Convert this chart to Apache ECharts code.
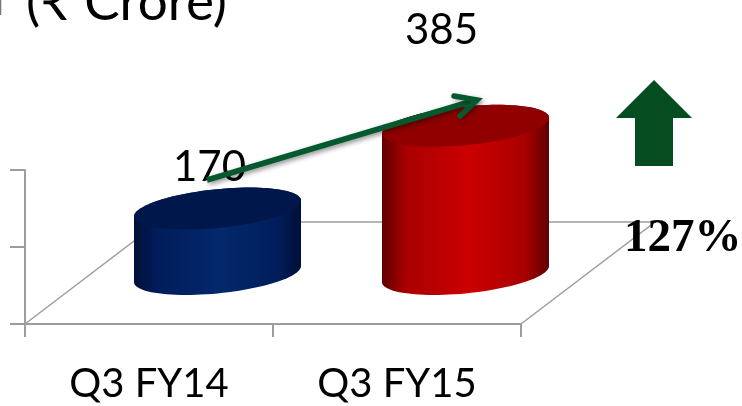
<!DOCTYPE html>
<html>
<head>
<meta charset="utf-8">
<style>html,body{margin:0;padding:0;background:#fff}#c{width:742px;height:406px}</style>
<script src="https://cdn.jsdelivr.net/npm/echarts@6/dist/echarts.min.js"></script>
</head>
<body>
<div id="c"></div>
<script>
const categories = ['Q3 FY14', 'Q3 FY15'];
const values = [170, 385];
const axisTicks = [0, 200, 400];
const growthLabel = '127%';
const unitTitle = '(₹ Crore)';

// Offset of the bars from the front of the floor, half of the floor depth.
const DEPTH = [134, -102];
const MID = [DEPTH[0] / 2 + 1.5, DEPTH[1] / 2 + 1];
const RX = 83.5, TILT = 8, RY = 19.4;
const NUDGE = [[-8, -41], [-24, -95]];
const LINE = '#9d9d9d';

const SKINS = [
  { edge: '#000f38', mid: '#03286c', base: '#001d5a', top: '#00174c' },
  { edge: '#5e0000', mid: '#cc0000', base: '#a80000', top: '#900000' }
];

// Point on the sheared ellipse of a cylinder cap.
function capPoint(cx, cy, t) {
  return [cx + RX * Math.cos(t), cy - TILT * Math.cos(t) + RY * Math.sin(t)];
}
function capPoints(cx, cy, from, to, n) {
  const pts = [];
  for (let i = 0; i <= n; i++) pts.push(capPoint(cx, cy, from + (to - from) * i / n));
  return pts;
}

function renderFloor(params) {
  const cs = params.coordSys;
  const x0 = cs.x, x1 = cs.x + cs.width, y0 = cs.y + cs.height;
  return {
    type: 'polyline',
    shape: { points: [[x0, y0], [x0 + DEPTH[0], y0 + DEPTH[1]], [x1 + DEPTH[0], y0 + DEPTH[1]], [x1, y0]] },
    style: { stroke: LINE, lineWidth: 1.5, fill: null }
  };
}

function renderCylinder(params, api) {
  const i = api.value(0);
  const skin = SKINS[i];
  const base = api.coord([i, 0]);
  const top = api.coord([i, api.value(1)]);
  const cx = base[0] + MID[0];
  const by = base[1] + MID[1];
  const ty = top[1] + MID[1];
  const body = capPoints(cx, by, 0, Math.PI, 48).concat(capPoints(cx, ty, Math.PI, 2 * Math.PI, 48));
  const side = {
    type: 'linear', x: 0, y: 0, x2: 1, y2: 0,
    colorStops: [
      { offset: 0, color: skin.edge },
      { offset: 0.14, color: skin.base },
      { offset: 0.52, color: skin.mid },
      { offset: 0.86, color: skin.base },
      { offset: 1, color: skin.edge }
    ]
  };
  return {
    type: 'group',
    children: [
      { type: 'polygon', shape: { points: body }, style: { fill: side } },
      { type: 'polygon', shape: { points: capPoints(cx, ty, 0, 2 * Math.PI, 96) }, style: { fill: skin.top } },
      {
        type: 'text', z2: 5,
        style: {
          text: String(api.value(1)), x: cx + NUDGE[i][0], y: ty + NUDGE[i][1],
          align: 'center', verticalAlign: 'middle', fill: '#000',
          font: '42px Lato, sans-serif'
        }
      }
    ]
  };
}

const chart = echarts.init(document.getElementById('c'));
chart.setOption({
  animation: false,
  backgroundColor: '#fff',
  grid: { left: 25, top: 170, width: 496, height: 154, containLabel: false },
  xAxis: {
    type: 'category', data: categories, boundaryGap: true,
    axisLine: { lineStyle: { color: LINE, width: 2 } },
    axisTick: { show: true, alignWithLabel: false, length: 13, lineStyle: { color: LINE, width: 2 } },
    axisLabel: { margin: 40, fontSize: 40, fontFamily: 'Lato', color: '#000' }
  },
  yAxis: {
    type: 'value', min: axisTicks[0], max: axisTicks[axisTicks.length - 1], interval: axisTicks[1] - axisTicks[0],
    splitLine: { show: false },
    axisLine: { show: true, lineStyle: { color: LINE, width: 2 } },
    axisTick: { show: true, length: 15, lineStyle: { color: LINE, width: 2 } },
    axisLabel: { show: false }
  },
  series: [
    { type: 'custom', renderItem: renderFloor, data: [0], silent: true, z: 1 },
    {
      type: 'custom', renderItem: renderCylinder, silent: true, z: 2,
      encode: { x: 0, y: 1 },
      data: values.map((v, i) => [i, v])
    }
  ],
  graphic: [
    { type: 'text', z: 10, left: 26, top: -24, style: { text: unitTitle, font: '53px Lato, sans-serif', fill: '#000' } },
    { type: 'line', z: 10, shape: { x1: 0.5, y1: 0, x2: 0.5, y2: 15 }, style: { stroke: '#777', lineWidth: 1.5 } },
    {
      type: 'polyline', z: 10, shape: { points: [[207, 180], [476, 100]] },
      style: { stroke: '#04592f', lineWidth: 5.5, fill: null, shadowBlur: 5, shadowColor: 'rgba(0,0,0,0.45)', shadowOffsetX: 2, shadowOffsetY: 2 }
    },
    {
      type: 'polyline', z: 10, shape: { points: [[454, 96], [477, 100], [460, 116]] },
      style: { stroke: '#04592f', lineWidth: 5.5, fill: null, lineCap: 'round', lineJoin: 'miter', shadowBlur: 5, shadowColor: 'rgba(0,0,0,0.35)', shadowOffsetX: 2, shadowOffsetY: 2 }
    },
    {
      type: 'polygon', z: 10,
      shape: { points: [[654, 80], [692, 118], [673, 118], [673, 166], [635, 166], [635, 118], [616, 118]] },
      style: { fill: '#054c20' }
    },
    { type: 'text', z: 11, left: 624, top: 215, style: { text: growthLabel, font: 'bold 47px "Liberation Serif", serif', fill: '#000' } }
  ]
});
</script>
</body>
</html>
